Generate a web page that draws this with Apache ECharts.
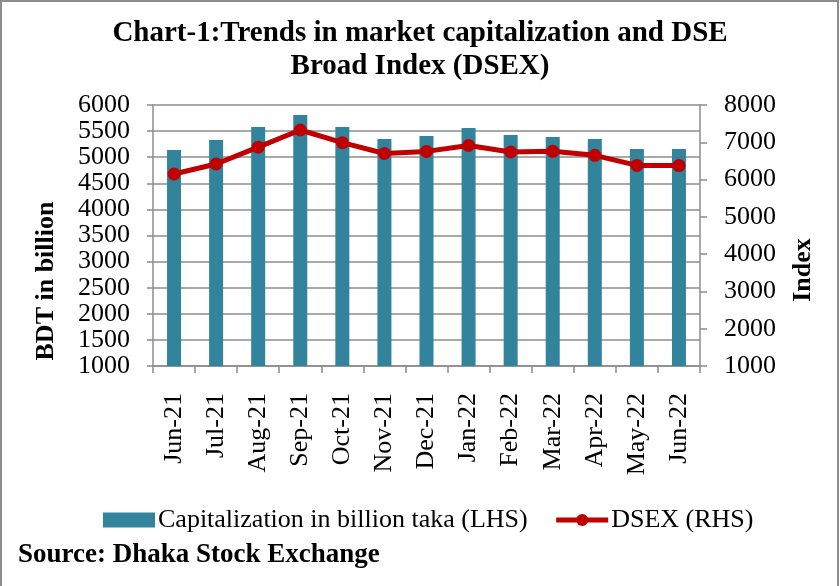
<!DOCTYPE html>
<html>
<head>
<meta charset="utf-8">
<script src="https://cdn.jsdelivr.net/npm/echarts@6/dist/echarts.min.js"></script>
<style>
  html, body { margin: 0; padding: 0; background: #fff; }
  #chart { width: 840px; height: 586px; }
</style>
</head>
<body>
<div id="chart"></div>
<script>
const months = ["Jun-21", "Jul-21", "Aug-21", "Sep-21", "Oct-21", "Nov-21", "Dec-21",
  "Jan-22", "Feb-22", "Mar-22", "Apr-22", "May-22", "Jun-22"];
// market capitalization, billion taka (left axis)
const capitalization = [5140, 5330, 5580, 5810, 5580, 5350, 5405, 5560, 5425, 5385, 5350, 5155, 5155];
// DSEX index (right axis)
const dsex = [6150, 6419, 6870, 7329, 6990, 6700, 6756, 6914, 6740, 6758, 6650, 6380, 6376];

const serif = "Liberation Serif";
const gridColor = "#8c8c8c";
const plain = (v) => String(v); // no thousand separators

const chart = echarts.init(document.getElementById("chart"));
chart.setOption({
  animation: false,
  title: {
    text: "Chart-1:Trends in market capitalization and DSE\nBroad Index (DSEX)",
    left: "center",
    top: 12,
    textStyle: {
      fontFamily: serif,
      fontWeight: "bold",
      fontSize: 29,
      lineHeight: 33,
      color: "#000"
    }
  },
  legend: {
    left: 98,
    top: 502,
    itemWidth: 52,
    itemHeight: 15,
    itemGap: 26,
    lineStyle: { width: 5 },
    textStyle: { fontFamily: serif, fontSize: 26, color: "#000", padding: [0, 0, 0, -2] },
    data: [
      { name: "Capitalization in billion taka (LHS)", icon: "rect" },
      { name: "DSEX (RHS)" }
    ]
  },
  grid: { left: 153, right: 140, top: 105, bottom: 220 },
  xAxis: {
    type: "category",
    data: months,
    axisLine: { lineStyle: { color: gridColor, width: 1.5 } },
    axisTick: { show: true, length: 7, lineStyle: { color: gridColor, width: 1.5 } },
    axisLabel: { rotate: 90, margin: 27, fontFamily: serif, fontSize: 26, color: "#000" }
  },
  yAxis: [
    {
      type: "value",
      min: 1000,
      max: 6000,
      interval: 500,
      axisLine: { show: true, lineStyle: { color: gridColor, width: 1.5 } },
      axisTick: { show: true, length: 6, lineStyle: { color: gridColor, width: 1.5 } },
      splitLine: { lineStyle: { color: gridColor, width: 1.5 } },
      axisLabel: { margin: 23, fontFamily: serif, fontSize: 26, color: "#000", formatter: plain }
    },
    {
      type: "value",
      min: 1000,
      max: 8000,
      interval: 1000,
      axisLine: { show: true, lineStyle: { color: gridColor, width: 1.5 } },
      axisTick: { show: true, length: 7, lineStyle: { color: gridColor, width: 1.5 } },
      splitLine: { show: false },
      axisLabel: { margin: 24, fontFamily: serif, fontSize: 26, color: "#000", formatter: plain }
    }
  ],
  series: [
    {
      name: "Capitalization in billion taka (LHS)",
      type: "bar",
      barWidth: 14,
      itemStyle: { color: "#31849b" },
      data: capitalization
    },
    {
      name: "DSEX (RHS)",
      type: "line",
      yAxisIndex: 1,
      symbol: "circle",
      symbolSize: 13,
      z: 5,
      itemStyle: { color: "#c00000" },
      lineStyle: { color: "#c00000", width: 5 },
      data: dsex
    }
  ],
  graphic: [
    {
      type: "rect",
      shape: { x: 1, y: 1, width: 837, height: 600 },
      style: { fill: "none", stroke: gridColor, lineWidth: 2 },
      silent: true
    },
    {
      type: "text",
      x: 46,
      y: 281,
      rotation: Math.PI / 2,
      style: {
        text: "BDT in billion",
        fontFamily: serif,
        fontWeight: "bold",
        fontSize: 26,
        fill: "#000",
        align: "center",
        verticalAlign: "middle"
      }
    },
    {
      type: "text",
      x: 803,
      y: 270,
      rotation: Math.PI / 2,
      style: {
        text: "Index",
        fontFamily: serif,
        fontWeight: "bold",
        fontSize: 26,
        fill: "#000",
        align: "center",
        verticalAlign: "middle"
      }
    },
    {
      type: "text",
      x: 18,
      y: 555,
      style: {
        text: "Source: Dhaka Stock Exchange",
        fontFamily: serif,
        fontWeight: "bold",
        fontSize: 27,
        fill: "#000",
        verticalAlign: "middle"
      }
    }
  ]
});
</script>
</body>
</html>
